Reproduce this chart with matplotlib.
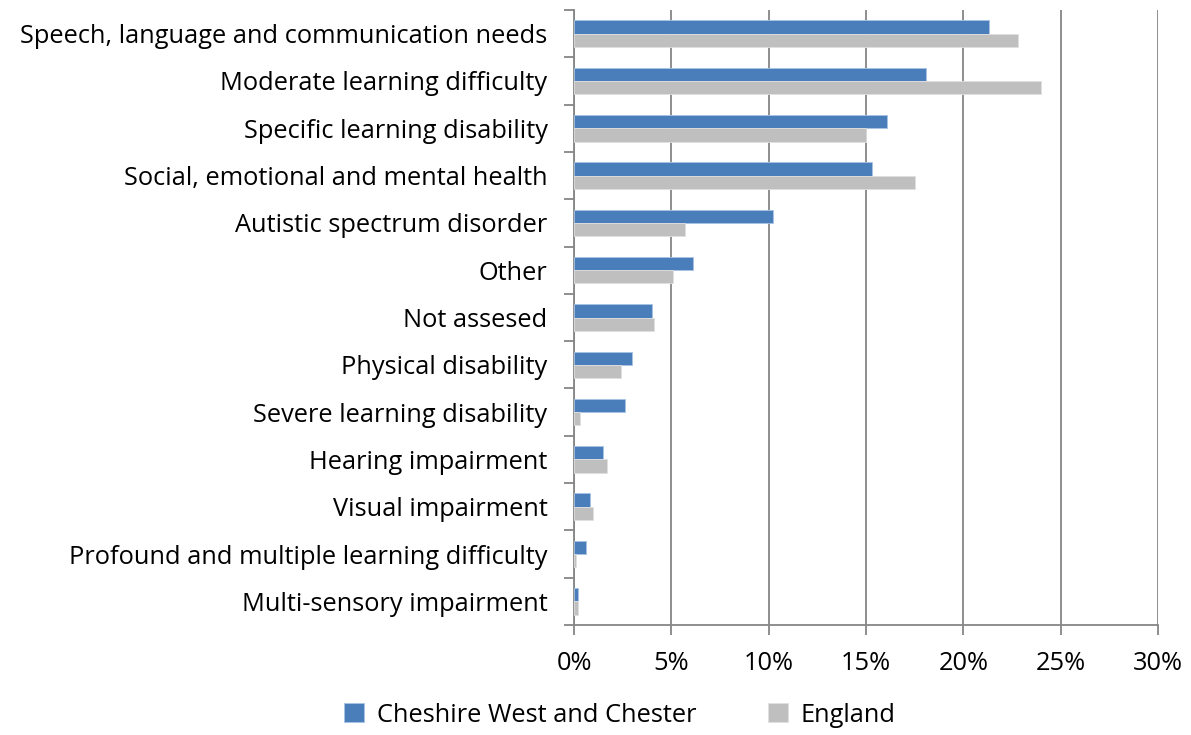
import matplotlib.pyplot as plt
import numpy as np

categories = ['Speech, language and communication needs', 'Moderate learning difficulty',
              'Specific learning disability', 'Social, emotional and mental health',
              'Autistic spectrum disorder', 'Other', 'Not assesed', 'Physical disability',
              'Severe learning disability', 'Hearing impairment', 'Visual impairment',
              'Profound and multiple learning difficulty', 'Multi-sensory impairment']
cwac = [21.3, 18.1, 16.1, 15.3, 10.2, 6.1, 4.0, 3.0, 2.6, 1.5, 0.8, 0.6, 0.2]
england = [22.8, 24.0, 15.0, 17.5, 5.7, 5.1, 4.1, 2.4, 0.3, 1.7, 1.0, 0.1, 0.2]
xticks = [0, 5, 10, 15, 20, 25, 30]

plt.rcParams['font.family'] = ['Open Sans', 'DejaVu Sans']
fs = 18.3

fig = plt.figure(figsize=(11.91, 7.35), dpi=100)
ax = fig.add_axes([574/1191, 1-625/735, (1158-574)/1191, 615/735])

y = np.arange(len(categories))
h = 0.28
ax.barh(y - h/2, cwac, height=h, color='#4a7ebb', edgecolor='#a9c3e6', linewidth=0.6,
        label='Cheshire West and Chester', zorder=3)
ax.barh(y + h/2, england, height=h, color='#bfbfbf', edgecolor='#e0e0e0', linewidth=0.6,
        label='England', zorder=3)

ax.set_xlim(0, 30)
ax.set_ylim(len(categories) - 0.5, -0.5)
ax.set_xticks(xticks)
ax.set_xticklabels([str(t) + '%' for t in xticks], fontsize=fs)
ax.xaxis.grid(True, color='#868686', linewidth=1.3, zorder=0)

# category labels between the boundary ticks, like Excel
ax.set_yticks(np.arange(len(categories) + 1) - 0.5)
ax.set_yticklabels([])
ax.set_yticks(y, minor=True)
ax.set_yticklabels(categories, minor=True, fontsize=fs)
ax.tick_params(axis='y', which='minor', length=0, pad=19)
ax.tick_params(axis='y', which='major', length=7, width=1.3, color='#868686')
ax.tick_params(axis='x', length=7, width=1.3, color='#868686', pad=12)

for s in ['top', 'right']:
    ax.spines[s].set_visible(False)
for s in ['left', 'bottom']:
    ax.spines[s].set_color('#868686')
    ax.spines[s].set_linewidth(1.3)

fig.legend(loc='center', bbox_to_anchor=(620/1191, 1-715/735), ncol=2, frameon=False,
           fontsize=fs, handlelength=0.8, handleheight=0.8, handletextpad=0.5,
           columnspacing=2.8)

plt.savefig('out.png', dpi=100)
